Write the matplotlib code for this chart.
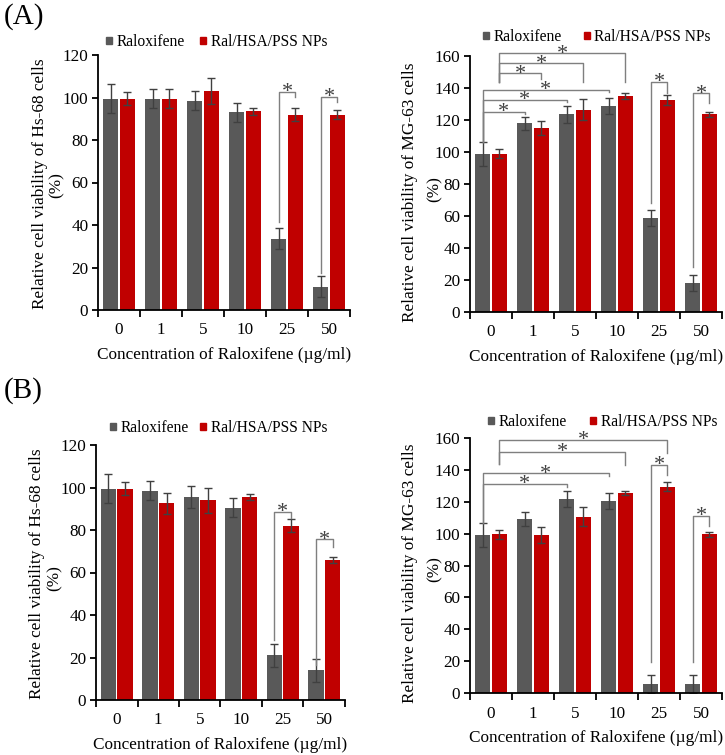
import numpy as np
import matplotlib
matplotlib.use("Agg")
import matplotlib.pyplot as plt
from matplotlib.patches import Patch

plt.rcParams['font.family'] = ['Liberation Serif', 'DejaVu Serif']

# concentrations of raloxifene (ug/ml)
conc = ['0', '1', '5', '10', '25', '50']
series = ['Raloxifene', 'Ral/HSA/PSS NPs']

# (A) Hs-68
a_hs_ral = [99.5, 99.5, 98.5, 93.0, 33.5, 11.0]
a_hs_ral_err = [7.0, 4.5, 4.5, 4.5, 5.0, 5.0]
a_hs_np = [99.5, 99.5, 103.0, 93.5, 92.0, 92.0]
a_hs_np_err = [3.0, 4.5, 6.0, 1.5, 3.0, 2.0]

# (A) MG-63
a_mg_ral = [99.0, 118.0, 123.5, 128.5, 58.5, 18.0]
a_mg_ral_err = [7.5, 4.0, 5.5, 5.0, 5.0, 5.0]
a_mg_np = [99.0, 115.0, 126.5, 135.0, 132.5, 123.5]
a_mg_np_err = [3.0, 4.5, 6.5, 2.0, 3.0, 1.5]

# (B) Hs-68
b_hs_ral = [99.5, 98.5, 95.5, 90.5, 21.0, 14.0]
b_hs_ral_err = [7.0, 4.5, 5.0, 4.5, 5.5, 5.5]
b_hs_np = [99.5, 92.5, 94.0, 95.5, 82.0, 66.0]
b_hs_np_err = [3.0, 5.0, 6.0, 1.5, 3.0, 1.5]

# (B) MG-63
b_mg_ral = [99.0, 109.0, 122.0, 120.5, 5.5, 5.5]
b_mg_ral_err = [7.5, 4.5, 5.0, 5.0, 5.5, 5.5]
b_mg_np = [99.5, 99.0, 110.5, 125.5, 129.5, 99.5]
b_mg_np_err = [3.0, 5.0, 6.0, 1.5, 3.0, 1.5]

# significance brackets: (cat1, series1, cat2, series2, top, bottom1, bottom2)
a_hs_sig = [(4, 0, 4, 1, 102.7, 41.6, 100.4),
            (5, 0, 5, 1, 100.4, 17.3, 98.0)]
a_mg_sig = [(0, 0, 1, 0, 125.2, 106.5, 123.5),
            (0, 0, 2, 0, 132.5, 106.5, 131.0),
            (0, 0, 3, 0, 138.8, 106.5, 137.3),
            (0, 1, 1, 1, 149.2, 144.0, 145.5),
            (0, 1, 2, 1, 155.4, 144.0, 144.0),
            (0, 1, 3, 1, 161.7, 144.0, 144.0),
            (4, 0, 4, 1, 143.9, 68.0, 136.7),
            (5, 0, 5, 1, 136.7, 28.3, 130.8)]
b_hs_sig = [(4, 0, 4, 1, 88.6, 28.2, 85.5),
            (5, 0, 5, 1, 75.6, 16.5, 72.0)]
b_mg_sig = [(0, 0, 2, 0, 131.1, 106.5, 129.0),
            (0, 0, 3, 0, 137.8, 106.5, 136.0),
            (0, 1, 3, 1, 151.4, 144.0, 143.0),
            (0, 1, 4, 1, 158.7, 144.0, 150.5),
            (4, 0, 4, 1, 143.0, 19.7, 136.8),
            (5, 0, 5, 1, 111.0, 19.7, 104.8)]

RAL_C = '#595959'
NP_C = '#c00000'
W, H = 725, 755
width = 0.375
off = [-0.2, 0.2]

fig = plt.figure(figsize=(W / 100, H / 100), dpi=100)


def ftext(px, py, s, **kw):
    # text placed in figure pixels from the top-left corner
    return fig.text(px / W, 1 - py / H, s, **kw)


def panel(rect, ral, ral_err, np_, np_err, ymax, cell, sig, ylab_pos, leg_xy, colsp):
    l, r, t, b = rect
    ax = fig.add_axes([l / W, 1 - b / H, (r - l) / W, (b - t) / H])
    x = np.arange(len(conc))
    ekw = dict(ecolor='#404040', elinewidth=1.0, capsize=3.0, capthick=1.0)
    ax.bar(x + off[0], ral, width, color=RAL_C, yerr=ral_err, error_kw=ekw, zorder=2)
    ax.bar(x + off[1], np_, width, color=NP_C, yerr=np_err, error_kw=ekw, zorder=2)
    ax.set_xlim(-0.5, len(conc) - 0.5)
    ax.set_ylim(0, ymax)
    ax.set_yticks(np.arange(0, ymax + 1, 20))
    ax.set_xticks(x)
    ax.set_xticklabels(conc)
    ax.set_xticks(np.arange(-0.5, len(conc)), minor=True)
    ax.tick_params(axis='x', which='major', length=0, labelsize=12.3, pad=9)
    ax.tick_params(axis='x', which='minor', length=5, width=1.3, direction='out')
    ax.tick_params(axis='y', length=4, width=1.3, direction='out', labelsize=12.3, pad=3)
    for s in ['top', 'right']:
        ax.spines[s].set_visible(False)
    for s in ['left', 'bottom']:
        ax.spines[s].set_linewidth(1.3)
    ax.set_xlabel('Concentration of Raloxifene (\u00b5g/ml)', fontsize=12.4, labelpad=6)

    (x1p, y1p), (x2p, y2p) = ylab_pos
    ftext(x1p, y1p, 'Relative cell viability of ' + cell + ' cells', rotation=90,
          ha='center', va='center', fontsize=12.4)
    ftext(x2p, y2p, '(%)', rotation=90, ha='center', va='center', fontsize=12.4)

    for c1, s1, c2, s2, top, b1, b2 in sig:
        x1 = c1 + off[s1]
        x2 = c2 + off[s2]
        ax.plot([x1, x1, x2, x2], [b1, top, top, b2], color='#7f7f7f', lw=1.0,
                clip_on=False, zorder=3)
        ax.annotate('*', xy=((x1 + x2) / 2, top), xytext=(0, -3.8),
                    textcoords='offset points', ha='center', va='baseline',
                    fontsize=16, color='#404040', annotation_clip=False)

    handles = [Patch(color=RAL_C), Patch(color=NP_C)]
    fig.legend(handles, series, loc='center left', ncol=2, frameon=False,
               bbox_to_anchor=(leg_xy[0] / W, 1 - leg_xy[1] / H),
               bbox_transform=fig.transFigure, borderaxespad=0, borderpad=0,
               handlelength=0.38, handleheight=0.38, handletextpad=0.3,
               columnspacing=colsp, fontsize=11.2)
    return ax


panel((98, 350, 55, 310), a_hs_ral, a_hs_ral_err, a_hs_np, a_hs_np_err, 120, 'Hs-68',
      a_hs_sig, ((40, 184), (57, 185)), (106, 42), 1.0)
panel((470, 722, 56, 312), a_mg_ral, a_mg_ral_err, a_mg_np, a_mg_np_err, 160, 'MG-63',
      a_mg_sig, ((410, 192), (435, 189)), (483, 37), 1.4)
panel((96, 345, 445, 700), b_hs_ral, b_hs_ral_err, b_hs_np, b_hs_np_err, 120, 'Hs-68',
      b_hs_sig, ((37, 574), (55, 578)), (110, 428), 0.75)
panel((470, 722, 438, 693), b_mg_ral, b_mg_ral_err, b_mg_np, b_mg_np_err, 160, 'MG-63',
      b_mg_sig, ((410, 573), (435, 569)), (488, 422), 1.5)

ftext(4, 3, '(A)', fontsize=21, ha='left', va='top')
ftext(4, 377, '(B)', fontsize=21, ha='left', va='top')

fig.savefig('out.png', dpi=100)
